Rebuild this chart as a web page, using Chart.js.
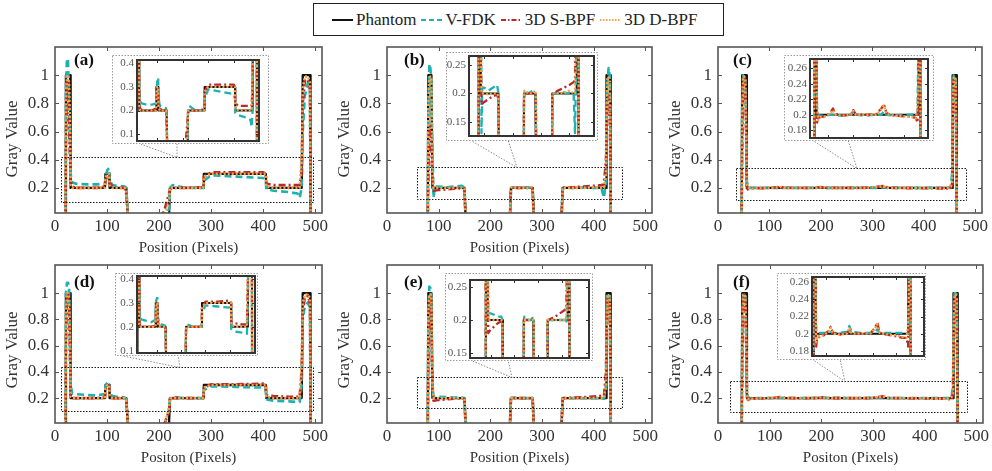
<!DOCTYPE html>
<html><head><meta charset="utf-8">
<script src="https://cdn.jsdelivr.net/npm/chart.js@4.4.1/dist/chart.umd.min.js"></script>
<style>
html,body{margin:0;padding:0;background:#fff;}
body{width:992px;height:471px;position:relative;overflow:hidden;font-family:"Liberation Serif","Times New Roman",serif;}
canvas{position:absolute;}
#legend{position:absolute;left:313px;top:3px;width:411px;height:33px;box-sizing:border-box;border:1.5px solid #222;display:flex;align-items:center;padding-left:18px;font-size:17px;color:#222;background:#fff;}
#legend .item{display:flex;align-items:center;margin-right:5px;white-space:nowrap;}
#legend svg{margin-right:3px;}
</style></head>
<body>
<div id="legend"></div>
<script>
// ---------- data ----------
const seriesNames = ['Phantom','V-FDK','3D S-BPF','3D D-BPF'];
const xTicks = [0,100,200,300,400,500];
const yTicks = [0.2,0.4,0.6,0.8,1];
const insetXTicks = [100,200,300,400];
const insetYTicksAD = [0.1,0.2,0.3,0.4];
const insetYTicksBE = [0.15,0.2,0.25];
const insetYTicksCF = [0.18,0.2,0.22,0.24,0.26];

// positions (pixels of the phantom profile) for panels (a),(d)
const gridAD = [10,20,21,23,25,27,29,30,33,40, 60,80,96,97,101,104,105,110,120,134, 137,140,205,210,219,221,226,250,285,286, 300,350,400,405,406,420,450,466,470,474, 476,480,486,490,491,500];
const phantomAD = [0,0,1,1,1,1,1,0.2,0.2,0.2, 0.2,0.2,0.2,0.3,0.3,0.3,0.2,0.2,0.2,0.2, 0.2,0,0,0,0,0.2,0.2,0.2,0.2,0.3, 0.3,0.3,0.3,0.3,0.2,0.2,0.2,0.2,0.2,0.2, 1,1,1,1,0,0];
const fdkA  = [0,0,0.9,1.12,1.1,0.8,0.45,0.3,0.24,0.23, 0.225,0.225,0.23,0.28,0.33,0.34,0.26,0.22,0.215,0.21, 0.2,0,0,0,0.05,0.2,0.22,0.2,0.2,0.25, 0.29,0.28,0.27,0.25,0.19,0.18,0.17,0.16,0.13,0.2, 0.6,0.85,0.95,0.9,0,0];
const sbpfA = [0,0,0.5,0.95,0.97,0.66,0.4,0.25,0.21,0.2, 0.2,0.2,0.21,0.25,0.29,0.28,0.24,0.21,0.2,0.2, 0.15,0,0,0.04,0.16,0.19,0.2,0.2,0.205,0.28, 0.31,0.31,0.31,0.3,0.23,0.22,0.22,0.22,0.22,0.3, 0.8,0.96,0.97,0.9,0,0];
const dbpfA = [0,0,0.8,1,1,0.95,0.6,0.22,0.2,0.2, 0.2,0.2,0.2,0.27,0.3,0.3,0.22,0.2,0.2,0.2, 0.18,0,0,0,0.1,0.2,0.2,0.2,0.2,0.28, 0.3,0.3,0.3,0.3,0.21,0.2,0.2,0.2,0.2,0.4, 0.9,0.99,0.99,0.95,0,0];
const fdkD  = [0,0,1,1.08,1.08,1.05,0.5,0.3,0.235,0.23, 0.225,0.22,0.23,0.3,0.32,0.32,0.25,0.215,0.21,0.205, 0.19,0,0,0,0.1,0.2,0.21,0.2,0.2,0.26, 0.29,0.285,0.28,0.26,0.19,0.18,0.175,0.17,0.17,0.3, 0.8,0.9,0.93,0.88,0,0];
const sbpfD = [0,0,0.6,0.98,0.99,0.9,0.5,0.22,0.2,0.2, 0.2,0.2,0.205,0.26,0.3,0.29,0.23,0.2,0.2,0.2, 0.19,0,0,0,0.1,0.2,0.2,0.2,0.2,0.28, 0.305,0.305,0.31,0.3,0.22,0.215,0.21,0.21,0.21,0.4, 0.85,0.97,0.98,0.92,0,0];
const dbpfD = [0,0,0.85,1,1,0.97,0.6,0.21,0.2,0.2, 0.2,0.2,0.2,0.27,0.3,0.3,0.22,0.2,0.2,0.2, 0.18,0,0,0,0.12,0.2,0.2,0.2,0.2,0.28, 0.3,0.3,0.3,0.3,0.21,0.2,0.2,0.2,0.2,0.45, 0.92,0.99,0.99,0.96,0,0];

// panels (b),(e)
const gridBE = [60,79,80,82,84,86,87,88,90,93, 100,115,130,145,150,152,154,200,238,240, 242,255,270,280,282,284,320,338,340,342, 360,380,400,415,420,424,425,427,429,431, 432,433,460];
const phantomBE = [0,0,1,1,1,1,1,0.2,0.2,0.2, 0.2,0.2,0.2,0.2,0.2,0,0,0,0,0.2, 0.2,0.2,0.2,0.2,0.2,0,0,0,0.2,0.2, 0.2,0.2,0.2,0.2,0.2,0.2,1,1,1,1, 1,0,0];
const fdkB  = [0,0,0.7,1.08,1.05,0.95,0.6,0.5,0.13,0.21, 0.21,0.205,0.21,0.215,0.2,0,0,0,0,0.19, 0.205,0.2,0.205,0.2,0.19,0,0,0,0.19,0.2, 0.2,0.202,0.2,0.2,0.13,0.25,0.6,0.95,1.05,1.0, 0.8,0,0];
const sbpfB = [0,0,0.3,0.6,0.64,0.5,0.35,0.25,0.18,0.182, 0.185,0.19,0.195,0.198,0.19,0,0,0,0,0.19, 0.2,0.2,0.2,0.2,0.19,0,0,0,0.19,0.2, 0.205,0.21,0.215,0.22,0.225,0.4,0.6,0.82,0.86,0.8, 0.5,0,0];
const dbpfB = [0,0,0.8,0.98,0.99,0.97,0.6,0.3,0.2,0.2, 0.2,0.198,0.2,0.2,0.195,0,0,0,0,0.2, 0.205,0.2,0.2,0.205,0.19,0,0,0,0.2,0.2, 0.2,0.2,0.205,0.2,0.2,0.3,0.7,0.98,0.99,0.97, 0.6,0,0];
const fdkE  = [0,0,0.8,1.05,1.04,0.95,0.5,0.3,0.21,0.21, 0.21,0.208,0.205,0.205,0.2,0,0,0,0,0.2, 0.205,0.2,0.2,0.205,0.2,0,0,0,0.2,0.2, 0.2,0.2,0.2,0.2,0.195,0.3,0.7,0.98,1.0,0.99, 0.7,0,0];
const sbpfE = [0,0,0.5,0.92,0.97,0.9,0.5,0.25,0.18,0.182, 0.185,0.19,0.195,0.198,0.19,0,0,0,0,0.195, 0.2,0.2,0.2,0.2,0.195,0,0,0,0.195,0.2, 0.203,0.207,0.212,0.216,0.218,0.4,0.7,0.95,0.97,0.95, 0.6,0,0];
const dbpfE = [0,0,0.85,0.99,0.99,0.97,0.6,0.3,0.2,0.2, 0.2,0.2,0.2,0.2,0.198,0,0,0,0,0.2, 0.2,0.2,0.2,0.2,0.198,0,0,0,0.2,0.2, 0.2,0.2,0.2,0.2,0.2,0.3,0.7,0.98,0.99,0.97, 0.6,0,0];

// panels (c),(f)
const gridCF = [30,46,47,49,51,53,55,56,58,62, 70,90,110,120,130,160,190,200,210,250, 290,310,320,330,360,400,430,445,452,455, 456,458,460,462,463,464,480];
const phantomCF = [0,0,1,1,1,1,1,0.2,0.2,0.2, 0.2,0.2,0.2,0.2,0.2,0.2,0.2,0.2,0.2,0.2, 0.2,0.2,0.2,0.2,0.2,0.2,0.2,0.2,0.2,0.2, 1,1,1,1,1,0,0];
const fdkC  = [0,0,0.8,1,1,0.98,0.6,0.25,0.205,0.2, 0.199,0.199,0.2,0.2,0.199,0.199,0.2,0.205,0.2,0.199, 0.2,0.2,0.205,0.2,0.199,0.2,0.2,0.201,0.2,0.3, 0.7,1,1,0.98,0.5,0,0];
const sbpfC = [0,0,0.5,0.97,0.99,0.95,0.5,0.22,0.19,0.196, 0.197,0.198,0.203,0.208,0.201,0.199,0.2,0.206,0.2,0.2, 0.201,0.208,0.214,0.202,0.199,0.198,0.197,0.196,0.19,0.23, 0.6,0.96,0.98,0.95,0.4,0,0];
const dbpfC = [0,0,0.7,0.99,0.99,0.97,0.55,0.23,0.21,0.193, 0.197,0.198,0.202,0.206,0.2,0.199,0.2,0.205,0.2,0.2, 0.2,0.207,0.212,0.201,0.199,0.198,0.197,0.195,0.21,0.24, 0.7,0.98,0.99,0.96,0.45,0,0];
const fdkF  = [0,0,0.8,1,1,0.99,0.6,0.25,0.205,0.201, 0.201,0.201,0.201,0.202,0.201,0.201,0.202,0.209,0.202,0.201, 0.201,0.202,0.205,0.201,0.201,0.201,0.201,0.2,0.2,0.3, 0.7,1,1,0.99,0.5,0,0];
const sbpfF = [0,0,0.5,0.97,0.99,0.95,0.5,0.22,0.185,0.195, 0.196,0.198,0.203,0.208,0.201,0.199,0.2,0.205,0.2,0.2, 0.2,0.207,0.213,0.201,0.199,0.197,0.195,0.195,0.185,0.23, 0.6,0.96,0.98,0.95,0.4,0,0];
const dbpfF = [0,0,0.7,0.99,0.99,0.97,0.55,0.23,0.19,0.197, 0.197,0.198,0.202,0.207,0.2,0.199,0.2,0.207,0.2,0.2, 0.2,0.206,0.211,0.201,0.199,0.198,0.196,0.195,0.21,0.24, 0.7,0.98,0.99,0.96,0.45,0,0];

// ---------- styles & layout ----------
const FONT = '"Liberation Serif", "Times New Roman", serif';
const STY = [
  {color:'#111111', dash:[], wf:0.9, lg:''},
  {color:'#1fb0b2', dash:[7,4], wf:1, lg:'5,3'},
  {color:'#b8292b', dash:[7,3,2,3], wf:1, lg:'5,2,1.5,2'},
  {color:'#f5a441', dash:[2,2], wf:1, lg:'1.5,1.5'}
];

const panels = [
  {label:'(a)', lab:[19,14], grid:gridAD, series:[phantomAD,fdkA,sbpfA,dbpfA], area:[55,47,322,213], y:[0.022,1.2], xTitle:'Position (Pixels)', yOff:9,
   rect:[11.5,496,0.1,0.42], box:[137,60,258,140], outer:[112,55,268,143], ix:[21,499], iy:[0.071,0.414], iyt:insetYTicksAD, callout:[[138,143],[177,143],[177]]},
  {label:'(b)', lab:[17,14], grid:gridBE, series:[phantomBE,fdkB,sbpfB,dbpfB], area:[387,47,652,213], y:[0.022,1.2], xTitle:'Position (Pixels)', yOff:9,
   rect:[58,455,0.12,0.35], box:[469,56,593,135], outer:[446,52,597,140], ix:[46,487], iy:[0.125,0.266], iyt:insetYTicksBE, callout:[[470,140],[508,140],[517]]},
  {label:'(c)', lab:[15,14], grid:gridCF, series:[phantomCF,fdkC,sbpfC,dbpfC], area:[718,47,982,213], y:[0.022,1.2], xTitle:'', yOff:9,
   rect:[35,482,0.115,0.34], box:[810,59,927,137], outer:[784,55,933,140], ix:[30,493], iy:[0.17,0.272], iyt:insetYTicksCF, callout:[[812,140],[848,140],[857]]},
  {label:'(d)', lab:[19,18], grid:gridAD, series:[phantomAD,fdkD,sbpfD,dbpfD], area:[55,265,322,423], y:[0.01,1.215], xTitle:'Positon (Pixels)', yOff:6,
   rect:[11.5,496,0.1,0.437], box:[137,276,254,352], outer:[115,273,257,355], ix:[20,503], iy:[0.09,0.413], iyt:insetYTicksAD, callout:[[118,355],[178,355],[180]]},
  {label:'(e)', lab:[17,18], grid:gridBE, series:[phantomBE,fdkE,sbpfE,dbpfE], area:[387,265,652,423], y:[0.01,1.215], xTitle:'Position (Pixels)', yOff:6,
   rect:[58,455,0.124,0.36], box:[470,280,588,357], outer:[445,273,592,360], ix:[13,515], iy:[0.142,0.261], iyt:insetYTicksBE, callout:[[470,360],[508,360],[512]]},
  {label:'(f)', lab:[15,18], grid:gridCF, series:[phantomCF,fdkF,sbpfF,dbpfF], area:[718,265,983,423], y:[0.01,1.215], xTitle:'Positon (Pixels)', yOff:6,
   rect:[23,482,0.093,0.33], box:[812,277,923,355], outer:[777,273,925,359], ix:[40,520], iy:[0.174,0.266], iyt:insetYTicksCF, callout:[[812,359],[840,359],[845]]}
];

function buildDatasets(grid, series, w){
  return series.map((vals,i)=>({
    label: seriesNames[i],
    data: grid.map((x,j)=>({x:x, y:vals[j]})),
    borderColor: STY[i].color,
    borderWidth: w*STY[i].wf,
    borderDash: STY[i].dash,
    borderJoinStyle:'round',
    pointRadius:0, pointHoverRadius:0, fill:false, tension:0,
    order: 4-i
  }));
}

function axBox(xt, yt, color, boxW, tl){
  return {id:'axbox', afterDraw(chart){
    const {ctx, chartArea:{left,top,right,bottom}} = chart;
    const xs=chart.scales.x, ys=chart.scales.y;
    ctx.save();
    ctx.strokeStyle=color; ctx.lineWidth=1; ctx.setLineDash([]);
    ctx.beginPath();
    xt.forEach(v=>{const px=Math.round(xs.getPixelForValue(v))+0.5; if(px>left+2&&px<right-2){ctx.moveTo(px,bottom);ctx.lineTo(px,bottom-tl);ctx.moveTo(px,top);ctx.lineTo(px,top+tl);}});
    yt.forEach(v=>{const py=Math.round(ys.getPixelForValue(v))+0.5; if(py>top+2&&py<bottom-2){ctx.moveTo(left,py);ctx.lineTo(left+tl,py);ctx.moveTo(right,py);ctx.lineTo(right-tl,py);}});
    ctx.stroke();
    ctx.lineWidth=boxW;
    ctx.strokeRect(left,top,right-left,bottom-top);
    ctx.restore();
  }};
}

function deco(p, cl, ct){
  return {id:'deco', afterDatasetsDraw(chart){
    const {ctx}=chart, xs=chart.scales.x, ys=chart.scales.y, ca=chart.chartArea;
    ctx.save();
    const x1=Math.round(xs.getPixelForValue(p.rect[0]))+0.5, x2=Math.round(xs.getPixelForValue(p.rect[1]))+0.5;
    const y1=Math.round(ys.getPixelForValue(p.rect[3]))+0.5, y2=Math.round(ys.getPixelForValue(p.rect[2]))+0.5;
    ctx.strokeStyle='#1a1a1a'; ctx.lineWidth=1; ctx.setLineDash([1.5,1.5]);
    ctx.strokeRect(x1,y1,x2-x1,y2-y1);
    const c=p.callout;
    ctx.strokeStyle='#8a8a8a'; ctx.setLineDash([1.5,1.5]);
    ctx.beginPath();
    ctx.moveTo(c[0][0]-cl, c[0][1]-ct); ctx.lineTo(c[2][0]-cl, y1); ctx.lineTo(c[1][0]-cl, c[1][1]-ct);
    ctx.stroke();
    ctx.setLineDash([]);
    ctx.fillStyle='#111'; ctx.font='bold 17px '+FONT; ctx.textBaseline='middle'; ctx.textAlign='left';
    ctx.fillText(p.label, ca.left+p.lab[0], ca.top+p.lab[1]);
    // y axis title, centred on the axis box (slightly below, as in the figure)
    ctx.save();
    ctx.translate(13, (ca.top+ca.bottom)/2 + p.yOff);
    ctx.rotate(-Math.PI/2);
    ctx.fillStyle='#333'; ctx.font='17px '+FONT; ctx.textAlign='center'; ctx.textBaseline='middle';
    ctx.fillText('Gray Value', 0, 0);
    ctx.restore();
    ctx.restore();
  }};
}

function mainChart(p){
  const [l,t,r,b]=p.area, YW=55, PT=10, PR=10, XH=50;
  const cl=l-YW, ct=t-PT, W=(r-l)+YW+PR, H=(b-t)+PT+XH;
  const cv=document.createElement('canvas');
  cv.width=W; cv.height=H; cv.style.left=cl+'px'; cv.style.top=ct+'px'; cv.style.width=W+'px'; cv.style.height=H+'px';
  document.body.appendChild(cv);
  new Chart(cv.getContext('2d'), {
    type:'line',
    data:{datasets:buildDatasets(p.grid,p.series,2.6)},
    options:{
      responsive:false, animation:false, devicePixelRatio:1, events:[],
      layout:{padding:{left:0,top:PT,right:PR,bottom:0}},
      plugins:{legend:{display:false}, tooltip:{enabled:false}},
      scales:{
        x:{type:'linear', min:0, max:513, grid:{display:false,drawTicks:false}, border:{display:false},
           afterBuildTicks:s=>{s.ticks=xTicks.map(v=>({value:v}));},
           afterFit:s=>{s.height=XH; s.paddingLeft=0; s.paddingRight=0;},
           ticks:{autoSkip:false, maxRotation:0, padding:3, color:'#333', font:{family:FONT,size:17}, callback:v=>String(v)},
           title:{display:!!p.xTitle, text:p.xTitle||' ', color:'#333', font:{family:FONT,size:15}, padding:{top:0,bottom:6}}},
        y:{type:'linear', min:p.y[0], max:p.y[1], grid:{display:false,drawTicks:false}, border:{display:false},
           afterBuildTicks:s=>{s.ticks=yTicks.map(v=>({value:v}));},
           afterFit:s=>{s.width=YW; s.paddingTop=0; s.paddingBottom=0;},
           ticks:{autoSkip:false, padding:6, color:'#333', font:{family:FONT,size:17}, callback:v=>String(v)},
           title:{display:false}}
      }
    },
    plugins:[axBox(xTicks,yTicks,'#555',1.6,4), deco(p,cl,ct)]
  });
}

function insetChart(p){
  const [ol,ot,or,ob]=p.outer, [bl,bt,br,bb]=p.box;
  const W=or-ol+1, H=ob-ot+1;
  const cv=document.createElement('canvas');
  cv.width=W; cv.height=H; cv.style.left=ol+'px'; cv.style.top=ot+'px'; cv.style.width=W+'px'; cv.style.height=H+'px';
  document.body.appendChild(cv);
  const bg={id:'insetbg', beforeDraw(chart){
    const ctx=chart.ctx; ctx.save(); ctx.fillStyle='#fff'; ctx.fillRect(0,0,W,H);
    ctx.strokeStyle='#9a9a9a'; ctx.lineWidth=1; ctx.setLineDash([1.5,1.5]); ctx.strokeRect(0.5,0.5,W-1,H-1); ctx.restore();
  }};
  new Chart(cv.getContext('2d'), {
    type:'line',
    data:{datasets:buildDatasets(p.grid,p.series,2.3)},
    options:{
      responsive:false, animation:false, devicePixelRatio:1, events:[],
      layout:{padding:{left:0, top:bt-ot, right:or-br, bottom:ob-bb}},
      plugins:{legend:{display:false}, tooltip:{enabled:false}},
      scales:{
        x:{type:'linear', display:false, min:p.ix[0], max:p.ix[1]},
        y:{type:'linear', min:p.iy[0], max:p.iy[1], grid:{display:false,drawTicks:false}, border:{display:false},
           afterBuildTicks:s=>{s.ticks=p.iyt.map(v=>({value:v}));},
           afterFit:s=>{s.width=bl-ol; s.paddingTop=0; s.paddingBottom=0;},
           ticks:{autoSkip:false, padding:3, color:'#555', font:{family:FONT,size:11}, callback:v=>String(v)}}
      }
    },
    plugins:[bg, axBox(insetXTicks,p.iyt,'#333',2,3)]
  });
}

panels.forEach(p=>{ mainChart(p); insetChart(p); });

// legend
const lg=document.getElementById('legend');
seriesNames.forEach((n,i)=>{
  const it=document.createElement('span'); it.className='item';
  const svgNS='http://www.w3.org/2000/svg';
  const svg=document.createElementNS(svgNS,'svg'); svg.setAttribute('width','21'); svg.setAttribute('height','10');
  const ln=document.createElementNS(svgNS,'line');
  ln.setAttribute('x1','0'); ln.setAttribute('y1','5'); ln.setAttribute('x2','21'); ln.setAttribute('y2','5');
  ln.setAttribute('stroke',STY[i].color); ln.setAttribute('stroke-width', i===0?'2':'1.8');
  if(STY[i].lg) ln.setAttribute('stroke-dasharray',STY[i].lg);
  svg.appendChild(ln);
  const tx=document.createElement('span'); tx.textContent=n;
  it.appendChild(svg); it.appendChild(tx); lg.appendChild(it);
});
</script>
</body></html>
